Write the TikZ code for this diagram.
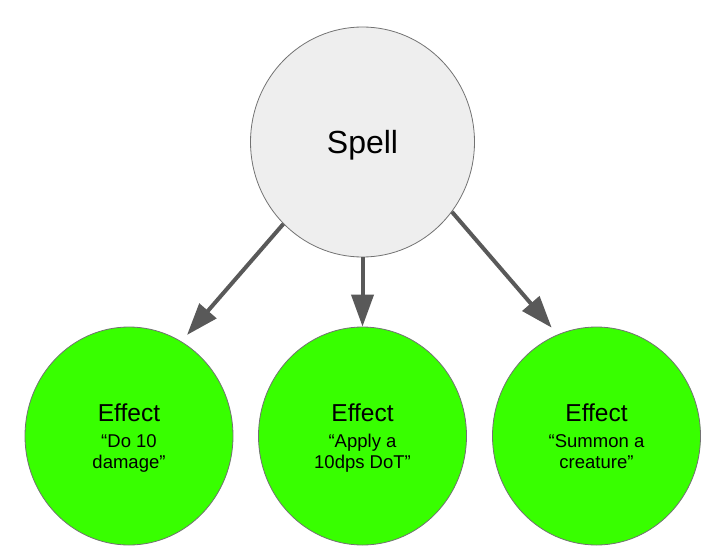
\documentclass[tikz,border=0pt]{standalone}
\usepackage{fontspec}
\setmainfont{Liberation Sans}
\usetikzlibrary{shapes.geometric,arrows.meta}

\definecolor{spellgray}{RGB}{238,238,238}
\definecolor{effectgreen}{RGB}{56,255,0}
\definecolor{edgegray}{RGB}{89,89,89}

\tikzset{
  spellnode/.style={draw=edgegray!85,line width=0.8pt,fill=spellgray,ellipse,inner sep=0pt,
    minimum width=224,minimum height=230,text depth=0pt,font=\fontsize{32}{34}\selectfont},
  effectnode/.style={draw=edgegray!85,line width=0.8pt,fill=effectgreen,ellipse,inner sep=0pt,
    minimum width=208,minimum height=218},
  effecttextnode/.style={align=center,inner sep=0pt,anchor=base,font=\fontsize{18.5}{21}\selectfont},
  link/.style={draw=edgegray,line width=4pt,-{Triangle[length=32pt,width=22pt]}}
}

% title line and two quoted lines
\newcommand{\effecttext}[2]{{\fontsize{24.5}{26}\selectfont Effect}\\[5pt] #1\\ #2}

\begin{document}
\begin{tikzpicture}[x=1pt,y=-1pt]

\useasboundingbox (0,0) rectangle (727,551);

\node[spellnode] (spell) at (362.5,142) {Spell};

\node[effectnode] (damage) at (129,436) {};
\node[effectnode] (dot) at (362.5,436) {};
\node[effectnode] (summon) at (596.5,436) {};

% texts sit on a fixed last baseline inside each effect
\node[effecttextnode] (damagetext) at ([yshift=-32.4pt]damage.center) {\effecttext{“Do 10}{damage”}};
\node[effecttextnode] (dottext) at ([yshift=-32.4pt]dot.center) {\effecttext{“Apply a}{10dps DoT”}};
\node[effecttextnode] (summontext) at ([yshift=-32.4pt]summon.center) {\effecttext{“Summon a}{creature”}};

% one arrow from the spell to each of its effects
\foreach \from/\to/\gap in {spell.226/damage.61/8.5, spell.south/dot.north/0, spell.322/summon.111/9}{
    \draw[link,shorten >=\gap pt] (\from) -- (\to);}

\end{tikzpicture}
\end{document}
